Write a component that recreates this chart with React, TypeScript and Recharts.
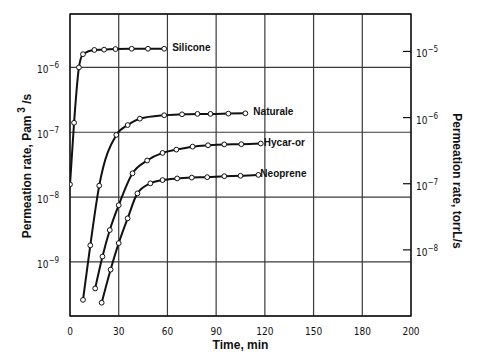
import React from 'react';
import {
  LineChart,
  Line,
  XAxis,
  YAxis,
  CartesianGrid,
  ReferenceArea,
  LabelList,
} from 'recharts';

// time in minutes, permeation rate in Pa m3/s
const siliconeTime = [0, 2.5, 5.5, 8, 15, 21, 28, 38, 48, 58];
const siliconeRate = [1.57e-8, 1.4e-7, 1.0e-6, 1.6e-6, 1.86e-6, 1.88e-6, 1.92e-6, 1.94e-6, 1.94e-6, 1.94e-6];

const naturaleTime = [8, 12.5, 18, 28.5, 35.5, 43, 58, 69, 78.5, 86.5, 97.5, 108];
const naturaleRate = [2.6e-10, 1.8e-9, 1.5e-8, 9.1e-8, 1.29e-7, 1.62e-7, 1.83e-7, 1.89e-7, 1.92e-7, 1.92e-7, 1.94e-7, 1.96e-7];

const hycarTime = [15.5, 20, 24.5, 30, 38.5, 47.5, 57, 65.5, 75.5, 85, 95, 105.5, 117.5];
const hycarRate = [3.9e-10, 1.21e-9, 3.1e-9, 7.5e-9, 2.33e-8, 3.67e-8, 4.8e-8, 5.4e-8, 6.0e-8, 6.3e-8, 6.5e-8, 6.55e-8, 6.7e-8];

const neopreneTime = [19.5, 25, 30, 35.5, 41.5, 49.5, 57, 66, 75, 84.5, 95, 105, 116];
const neopreneRate = [2.35e-10, 7.6e-10, 1.95e-9, 4.7e-9, 1.14e-8, 1.63e-8, 1.83e-8, 1.94e-8, 2.0e-8, 2.03e-8, 2.1e-8, 2.13e-8, 2.2e-8];

// the last gridline of the original is labelled 200 but spaced like 210
const timeTicks = [0, 30, 60, 90, 120, 150, 180, 210];
const timeTickLabels = ['0', '30', '60', '90', '120', '150', '180', '200'];

const leftTicks = [1e-9, 1e-8, 1e-7, 1e-6];
const rightTicks = [1e-8, 1e-7, 1e-6, 1e-5];

const leftDomain = [Math.pow(10, -9.834), Math.pow(10, -5.176)];
const rightDomain = [1e-9, Math.pow(10, -4.434)];

const toRows = (t: number[], r: number[]) => t.map((v, i) => ({ t: v, rate: r[i] }));

const series = [
  { name: 'Silicone', data: toRows(siliconeTime, siliconeRate), dx: 8 },
  { name: 'Naturale', data: toRows(naturaleTime, naturaleRate), dx: 8 },
  { name: 'Hycar-or', data: toRows(hycarTime, hycarRate), dx: 3 },
  { name: 'Neoprene', data: toRows(neopreneTime, neopreneRate), dx: 2 },
];

const tickFont = "'Liberation Sans Narrow', 'DejaVu Sans Condensed', 'Arial Narrow', sans-serif";
const titleFont = "'Liberation Sans', Arial, Helvetica, sans-serif";

const PowerTick = (props: any) => {
  const { x, y, payload, side } = props;
  const exp = Math.round(Math.log10(payload.value));
  const anchor = side === 'left' ? 'end' : 'start';
  return (
    <text x={x} y={y + 6} textAnchor={anchor} fontFamily={tickFont} fontSize={10} fill="#111">
      10
      <tspan dy={-5} fontSize={8}>{'\u2212' + Math.abs(exp)}</tspan>
    </text>
  );
};

const endLabel = (name: string, last: number, dx: number) => (props: any) => {
  const { x, y, index } = props;
  if (index !== last) return null;
  return (
    <text x={x + dx} y={y + 2} fontFamily={titleFont} fontWeight="bold" fontSize={10} fill="#111">
      {name}
    </text>
  );
};

const LeftTitle = () => (
  <text
    transform="rotate(-90)"
    x={-166}
    y={31}
    textAnchor="middle"
    fontFamily={titleFont}
    fontWeight="bold"
    fontSize={12}
    fill="#111"
  >
    Permeation rate, Pam
    <tspan dy={-6} fontSize={10}> 3</tspan>
    <tspan dy={6}> /s</tspan>
  </text>
);

const RightTitle = () => (
  <text
    transform="rotate(90)"
    x={181}
    y={-453}
    textAnchor="middle"
    fontFamily={titleFont}
    fontWeight="bold"
    fontSize={12}
    fill="#111"
  >
    Permeation rate, torrL/s
  </text>
);

export default function App() {
  return (
    <div style={{ position: 'absolute', left: 0, top: 0, background: '#fff' }}>
      <LineChart width={480} height={354} margin={{ top: 14, right: 0, bottom: 0, left: 0 }}>
        <CartesianGrid yAxisId="left" stroke="#3a3a3a" strokeWidth={1.2} />
        <XAxis
          type="number"
          dataKey="t"
          domain={[0, 210]}
          ticks={timeTicks}
          allowDataOverflow
          height={38}
          tickLine={false}
          axisLine={false}
          tickMargin={6}
          tick={{ fontFamily: tickFont, fontSize: 10, fill: '#111' }}
          tickFormatter={(v: number) => timeTickLabels[timeTicks.indexOf(v)]}
          label={{
            value: 'Time, min',
            position: 'insideBottom',
            offset: 5,
            style: { fontFamily: titleFont, fontWeight: 'bold', fontSize: 12, fill: '#111' },
          }}
        />
        <YAxis
          yAxisId="left"
          type="number"
          scale="log"
          domain={leftDomain}
          allowDataOverflow
          ticks={leftTicks}
          width={70}
          tickLine={false}
          axisLine={false}
          tickMargin={5}
          tick={<PowerTick side="left" />}
          label={{ content: () => <LeftTitle /> }}
        />
        <YAxis
          yAxisId="right"
          orientation="right"
          type="number"
          scale="log"
          domain={rightDomain}
          allowDataOverflow
          ticks={rightTicks}
          width={69}
          tickSize={-8}
          tickMargin={13}
          tickLine={{ stroke: '#111', strokeWidth: 1.2 }}
          axisLine={false}
          tick={<PowerTick side="right" />}
          label={{ content: () => <RightTitle /> }}
        />
        <ReferenceArea
          yAxisId="left"
          x1={0}
          x2={210}
          y1={leftDomain[0]}
          y2={leftDomain[1]}
          fill="none"
          stroke="#111"
          strokeWidth={1.3}
          ifOverflow="visible"
        />
        {series.map((s) => (
          <Line
            key={s.name}
            yAxisId="left"
            data={s.data}
            dataKey="rate"
            type="monotone"
            stroke="#111"
            strokeWidth={2}
            dot={{ r: 2.4, fill: '#fff', stroke: '#111', strokeWidth: 1 }}
            isAnimationActive={false}
          >
            <LabelList dataKey="rate" content={endLabel(s.name, s.data.length - 1, s.dx)} />
          </Line>
        ))}
      </LineChart>
    </div>
  );
}
